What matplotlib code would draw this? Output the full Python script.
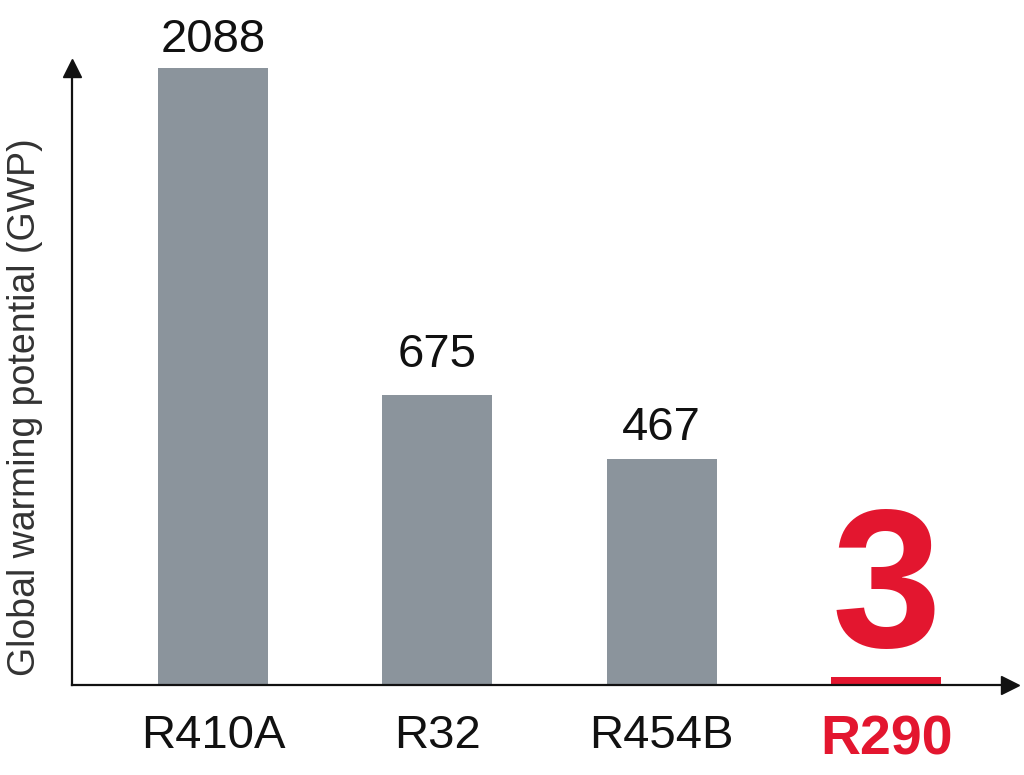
import matplotlib
matplotlib.use("Agg")
import matplotlib.pyplot as plt
import numpy as np

categories = ["R410A", "R32", "R454B", "R290"]
gwp_values = [2088, 675, 467, 3]
value_labels = ["2088", "675", "467", "3"]

GRAY = "#8b949c"
RED = "#e3162f"

plt.rcParams['font.family'] = ['Liberation Sans', 'DejaVu Sans']

P = 0.67
def fwd(v):
    return np.sign(v) * np.abs(v) ** P
def inv(v):
    return np.sign(v) * np.abs(v) ** (1.0 / P)

fig = plt.figure(figsize=(10.24, 7.75), dpi=100)
ax = fig.add_axes([72/1024, 90/775, (1010-72)/1024, (685-68)/775])
ax.set_yscale('function', functions=(fwd, inv))

x = np.arange(len(categories))
colors = [GRAY, GRAY, GRAY, RED]
ax.bar(x, gwp_values, width=0.49, color=colors, zorder=2)

ax.set_ylim(0, max(gwp_values))
ax.set_xlim(-0.628, 3.552)

label_offsets = [11.5, 20.5, 13.5]
for xi, v, lab, off in zip(x[:3], gwp_values[:3], value_labels[:3], label_offsets):
    ax.annotate(lab, xy=(xi, v), xytext=(0, off), textcoords='offset points',
                ha='center', va='baseline', fontsize=34, color='#111111')
ax.annotate(value_labels[3], xy=(x[3], gwp_values[3]), xytext=(0, 22),
            textcoords='offset points', ha='center', va='baseline',
            fontsize=142, fontweight='bold', color=RED)

for s in ['top', 'right']:
    ax.spines[s].set_visible(False)
for s in ['left', 'bottom']:
    ax.spines[s].set_linewidth(1.6)
    ax.spines[s].set_color('#111111')

ax.plot(1, 0, marker='>', color='#111111', markersize=13, transform=ax.transAxes, clip_on=False)
ax.plot(0, 1, marker='^', color='#111111', markersize=13, transform=ax.transAxes, clip_on=False)

ax.set_yticks([])
ax.set_xticks(x)
ax.set_xticklabels(categories, fontsize=34, color='#111111')
ax.tick_params(axis='x', length=0, pad=21)
tl = ax.get_xticklabels()
tl[3].set_color(RED)
tl[3].set_fontweight('bold')
tl[3].set_fontsize(40)

fig.text(25/1024, 1 - 407/775, "Global warming potential (GWP)", rotation=90,
         ha='center', va='center', fontsize=27, color='#333333')

fig.savefig("out.png", dpi=100, facecolor='white')
